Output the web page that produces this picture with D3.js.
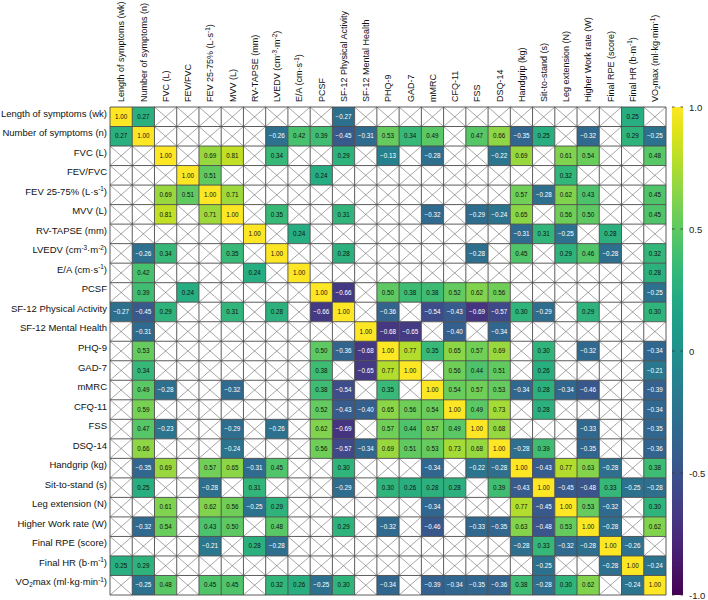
<!DOCTYPE html>
<html>
<head>
<meta charset="utf-8">
<script src="https://cdn.jsdelivr.net/npm/d3@7"></script>
<style>
  body { margin: 0; background: #fff; }
  svg { display: block; font-family: "Liberation Sans", Arial, sans-serif; }
</style>
</head>
<body>
<svg id="chart" width="708" height="600"></svg>
<script>
// variable names (^{..} = superscript, _{..} = subscript)
const labels = [
  "Length of symptoms (wk)", "Number of symptoms (n)", "FVC (L)", "FEV/FVC",
  "FEV 25-75% (L·s^{-1})", "MVV (L)", "RV-TAPSE (mm)", "LVEDV (cm^{-3}·m^{-2})",
  "E/A (cm·s^{-1})", "PCSF", "SF-12 Physical Activity", "SF-12 Mental Health",
  "PHQ-9", "GAD-7", "mMRC", "CFQ-11", "FSS", "DSQ-14", "Handgrip (kg)",
  "Sit-to-stand (s)", "Leg extension (N)", "Higher Work rate (W)",
  "Final RPE (score)", "Final HR (b·m^{-1})", "VO_{2}max (ml·kg·min^{-1})"
];

// correlation rows, X = not significant (crossed cell)
const X = null;
const corr = [
  [1.00, 0.27, X, X, X, X, X, X, X, X, -0.27, X, X, X, X, X, X, X, X, X, X, X, X, 0.25, X],
  [0.27, 1.00, X, X, X, X, X, -0.26, 0.42, 0.39, -0.45, -0.31, 0.53, 0.34, 0.49, X, 0.47, 0.66, -0.35, 0.25, X, -0.32, X, 0.29, -0.25],
  [X, X, 1.00, X, 0.69, 0.81, X, 0.34, X, X, 0.29, X, -0.13, X, -0.28, X, X, -0.22, 0.69, X, 0.61, 0.54, X, X, 0.48],
  [X, X, X, 1.00, 0.51, X, X, X, X, 0.24, X, X, X, X, X, X, X, X, X, X, 0.32, X, X, X, X],
  [X, X, 0.69, 0.51, 1.00, 0.71, X, X, X, X, X, X, X, X, X, X, X, X, 0.57, -0.28, 0.62, 0.43, X, X, 0.45],
  [X, X, 0.81, X, 0.71, 1.00, X, 0.35, X, X, 0.31, X, X, X, -0.32, X, -0.29, -0.24, 0.65, X, 0.56, 0.50, X, X, 0.45],
  [X, X, X, X, X, X, 1.00, X, 0.24, X, X, X, X, X, X, X, X, X, -0.31, 0.31, -0.25, X, 0.28, X, X],
  [X, -0.26, 0.34, X, X, 0.35, X, 1.00, X, X, 0.28, X, X, X, X, X, -0.28, X, 0.45, X, 0.29, 0.46, -0.28, X, 0.32],
  [X, 0.42, X, X, X, X, 0.24, X, 1.00, X, X, X, X, X, X, X, X, X, X, X, X, X, X, X, 0.28],
  [X, 0.39, X, 0.24, X, X, X, X, X, 1.00, -0.66, X, 0.50, 0.38, 0.38, 0.52, 0.62, 0.56, X, X, X, X, X, X, -0.25],
  [-0.27, -0.45, 0.29, X, X, 0.31, X, 0.28, X, -0.66, 1.00, X, -0.36, X, -0.54, -0.43, -0.69, -0.57, 0.30, -0.29, X, 0.29, X, X, 0.30],
  [X, -0.31, X, X, X, X, X, X, X, X, X, 1.00, -0.68, -0.65, X, -0.40, X, -0.34, X, X, X, X, X, X, X],
  [X, 0.53, X, X, X, X, X, X, X, 0.50, -0.36, -0.68, 1.00, 0.77, 0.35, 0.65, 0.57, 0.69, X, 0.30, X, -0.32, X, X, -0.34],
  [X, 0.34, X, X, X, X, X, X, X, 0.38, X, -0.65, 0.77, 1.00, X, 0.56, 0.44, 0.51, X, 0.26, X, X, X, X, -0.21],
  [X, 0.49, -0.28, X, X, -0.32, X, X, X, 0.38, -0.54, X, 0.35, X, 1.00, 0.54, 0.57, 0.53, -0.34, 0.28, -0.34, -0.46, X, X, -0.39],
  [X, 0.59, X, X, X, X, X, X, X, 0.52, -0.43, -0.40, 0.65, 0.56, 0.54, 1.00, 0.49, 0.73, X, 0.28, X, X, X, X, -0.34],
  [X, 0.47, -0.23, X, X, -0.29, X, -0.26, X, 0.62, -0.69, X, 0.57, 0.44, 0.57, 0.49, 1.00, 0.68, X, X, X, -0.33, X, X, -0.35],
  [X, 0.66, X, X, X, -0.24, X, X, X, 0.56, -0.57, -0.34, 0.69, 0.51, 0.53, 0.73, 0.68, 1.00, -0.28, 0.39, X, -0.35, X, X, -0.36],
  [X, -0.35, 0.69, X, 0.57, 0.65, -0.31, 0.45, X, X, 0.30, X, X, X, -0.34, X, -0.22, -0.28, 1.00, -0.43, 0.77, 0.63, -0.28, X, 0.38],
  [X, 0.25, X, X, -0.28, X, 0.31, X, X, X, -0.29, X, 0.30, 0.26, 0.28, 0.28, X, 0.39, -0.43, 1.00, -0.45, -0.48, 0.33, -0.25, -0.28],
  [X, X, 0.61, X, 0.62, 0.56, -0.25, 0.29, X, X, X, X, X, X, -0.34, X, X, X, 0.77, -0.45, 1.00, 0.53, -0.32, X, 0.30],
  [X, -0.32, 0.54, X, 0.43, 0.50, X, 0.48, X, X, 0.29, X, -0.32, X, -0.46, X, -0.33, -0.35, 0.63, -0.48, 0.53, 1.00, -0.28, X, 0.62],
  [X, X, X, X, -0.21, X, 0.28, -0.28, X, X, X, X, X, X, X, X, X, X, -0.28, 0.33, -0.32, -0.28, 1.00, -0.26, X],
  [0.25, 0.29, X, X, X, X, X, X, X, X, X, X, X, X, X, X, X, X, X, -0.25, X, X, -0.28, 1.00, -0.24],
  [X, -0.25, 0.48, X, 0.45, 0.45, X, 0.32, 0.26, -0.25, 0.30, X, -0.34, X, -0.39, -0.34, -0.35, -0.36, 0.38, -0.28, 0.30, 0.62, X, -0.24, 1.00]
];

const colorTicks = [1, 0.5, 0, -0.5, -1];
const colorTickLabels = ["1.0", "0.5", "0", "-0.5", "-1.0"];

const svg = d3.select("#chart");
const mLeft = 110, mRight = 666, mTop = 107, mBottom = 595;

const x = d3.scaleBand().domain(d3.range(labels.length)).range([mLeft, mRight]);
const y = d3.scaleBand().domain(d3.range(labels.length)).range([mTop, mBottom]);
const color = d3.scaleSequential(d3.interpolateViridis).domain([-1, 1]);

// label text with super/subscripts
function richText(sel, str) {
  const parts = str.split(/(\^\{[^}]*\}|_\{[^}]*\})/).filter(s => s);
  let shift = 0;
  parts.forEach(p => {
    const t = sel.append("tspan");
    if (p.startsWith("^{") || p.startsWith("_{")) {
      const d = p[0] === "^" ? -3.5 : 2.2;
      t.attr("font-size", 6.4).attr("dy", d - shift).text(p.slice(2, -1));
      shift = d;
    } else {
      t.attr("dy", -shift).text(p);
      shift = 0;
    }
  });
}

const cells = [];
corr.forEach((row, i) => row.forEach((v, j) => cells.push({ i, j, v })));

const g = svg.append("g");
const cell = g.selectAll("g.cell").data(cells).enter().append("g")
  .attr("transform", d => `translate(${x(d.j)},${y(d.i)})`);

cell.append("rect")
  .attr("width", x.bandwidth())
  .attr("height", y.bandwidth())
  .attr("fill", d => d.v === null ? "#fff" : color(d.v));

cell.filter(d => d.v === null).each(function () {
  const s = d3.select(this);
  s.append("line").attr("x1", 0).attr("y1", 0).attr("x2", x.bandwidth()).attr("y2", y.bandwidth());
  s.append("line").attr("x1", x.bandwidth()).attr("y1", 0).attr("x2", 0).attr("y2", y.bandwidth());
}).selectAll("line").attr("stroke", "#6a6a6a").attr("stroke-width", 0.6);

cell.filter(d => d.v !== null).append("text")
  .attr("x", x.bandwidth() / 2)
  .attr("y", y.bandwidth() / 2)
  .attr("dy", "0.35em")
  .attr("text-anchor", "middle")
  .attr("font-size", 6.3)
  .attr("fill", d => d.v < 0 ? "#fff" : "#111")
  .text(d => d3.format(".2f")(d.v));

// grid
g.selectAll("line.vg").data(d3.range(labels.length + 1)).enter().append("line")
  .attr("x1", d => mLeft + d * x.step()).attr("x2", d => mLeft + d * x.step())
  .attr("y1", mTop).attr("y2", mBottom)
  .attr("stroke", "#4a4a4a").attr("stroke-width", 0.9);
g.selectAll("line.hg").data(d3.range(labels.length + 1)).enter().append("line")
  .attr("y1", d => mTop + d * y.step()).attr("y2", d => mTop + d * y.step())
  .attr("x1", mLeft).attr("x2", mRight)
  .attr("stroke", "#4a4a4a").attr("stroke-width", 0.9);

// row labels
svg.append("g").selectAll("text").data(labels).enter().append("text")
  .attr("x", mLeft - 3)
  .attr("y", (d, i) => y(i) + y.bandwidth() / 2)
  .attr("dy", "0.35em")
  .attr("text-anchor", "end")
  .attr("font-size", 9.5)
  .attr("fill", "#111")
  .each(function (d) { richText(d3.select(this), d); });

// column labels
svg.append("g").selectAll("text").data(labels).enter().append("text")
  .attr("transform", (d, i) => `translate(${x(i) + x.bandwidth() / 2 + 3.3},${mTop - 5}) rotate(-90)`)
  .attr("text-anchor", "start")
  .attr("font-size", 9)
  .attr("fill", "#111")
  .each(function (d) { richText(d3.select(this), d); });

// colour bar
const cb = { x: 672, w: 11 };
const cScale = d3.scaleLinear().domain([-1, 1]).range([mBottom, mTop]);
const grad = svg.append("defs").append("linearGradient")
  .attr("id", "vir").attr("x1", 0).attr("y1", 1).attr("x2", 0).attr("y2", 0);
grad.selectAll("stop").data(d3.range(0, 1.0001, 0.05)).enter().append("stop")
  .attr("offset", d => d)
  .attr("stop-color", d => d3.interpolateViridis(d));
svg.append("rect")
  .attr("x", cb.x).attr("y", mTop).attr("width", cb.w).attr("height", mBottom - mTop)
  .attr("fill", "url(#vir)");

const tickG = svg.append("g").selectAll("g").data(colorTicks).enter().append("g");
tickG.append("line")
  .attr("x1", cb.x).attr("x2", cb.x + 2.5)
  .attr("y1", d => cScale(d)).attr("y2", d => cScale(d))
  .attr("stroke", "#333").attr("stroke-width", 0.8);
tickG.append("line")
  .attr("x1", cb.x + cb.w - 2.5).attr("x2", cb.x + cb.w)
  .attr("y1", d => cScale(d)).attr("y2", d => cScale(d))
  .attr("stroke", "#333").attr("stroke-width", 0.8);

svg.append("g")
  .attr("transform", `translate(${cb.x + cb.w},0)`)
  .call(d3.axisRight(cScale).tickValues(colorTicks).tickSize(0).tickPadding(6)
    .tickFormat((d, i) => colorTickLabels[i]))
  .call(a => a.select(".domain").remove())
  .selectAll("text")
  .attr("font-size", 9.5)
  .attr("font-family", "Liberation Sans, Arial, sans-serif")
  .attr("fill", "#222");
</script>
</body>
</html>
